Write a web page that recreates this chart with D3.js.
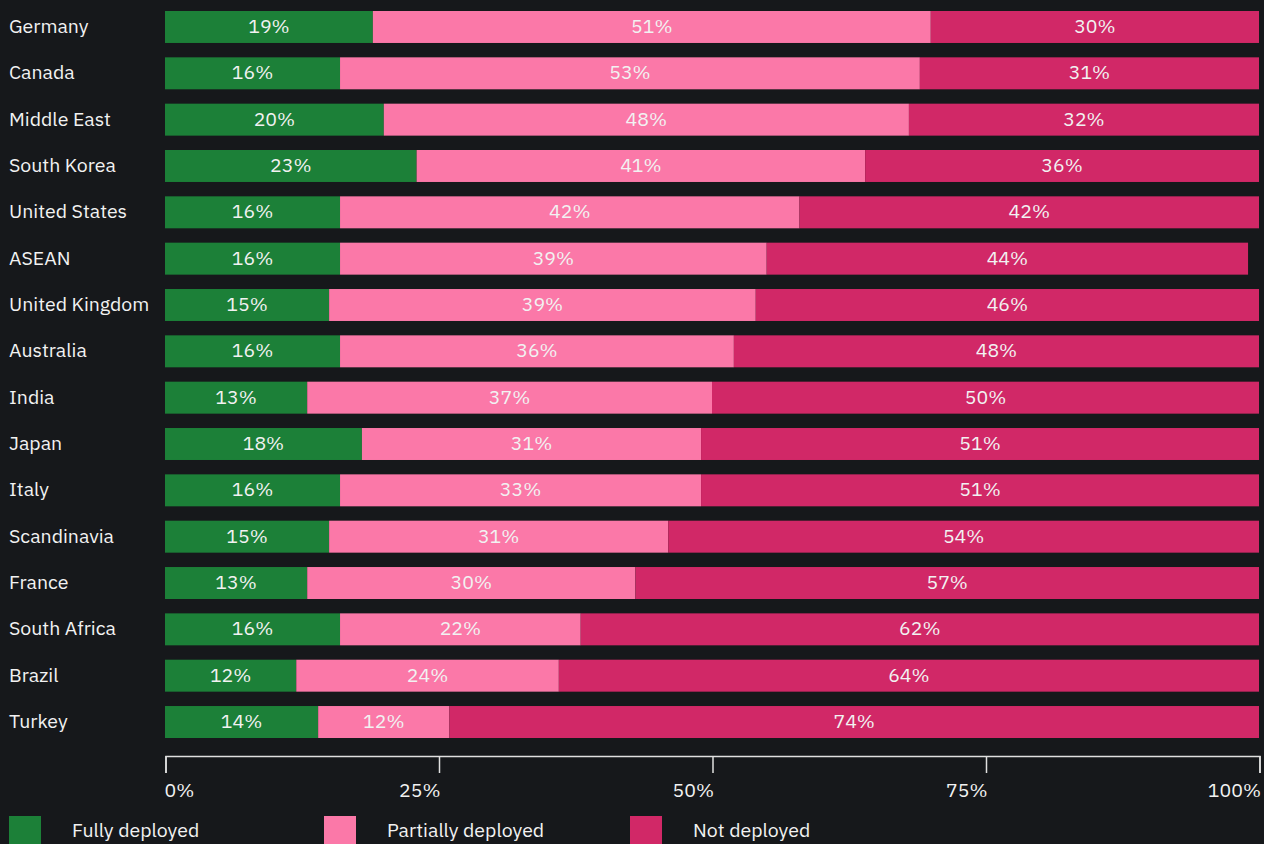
<!DOCTYPE html>
<html>
<head>
<meta charset="utf-8">
<script src="https://cdn.jsdelivr.net/npm/d3@7"></script>
<style>
  html, body { margin: 0; padding: 0; background: #16181b; }
  svg { display: block; }
  text { font-family: "IBM Plex Sans", "Noto Sans", sans-serif; fill: #f2f2f2; }
</style>
</head>
<body>
<svg id="chart" width="1264" height="844"></svg>
<script>
// Deployment status by region (percent of respondents)
const regions = ["Germany", "Canada", "Middle East", "South Korea", "United States", "ASEAN",
  "United Kingdom", "Australia", "India", "Japan", "Italy", "Scandinavia", "France",
  "South Africa", "Brazil", "Turkey"];
const fully     = [19, 16, 20, 23, 16, 16, 15, 16, 13, 18, 16, 15, 13, 16, 12, 14];
const partially = [51, 53, 48, 41, 42, 39, 39, 36, 37, 31, 33, 31, 30, 22, 24, 12];
const notDeployed = [30, 31, 32, 36, 42, 44, 46, 48, 50, 51, 51, 54, 57, 62, 64, 74];

const seriesNames = ["Fully deployed", "Partially deployed", "Not deployed"];
const seriesColors = ["#1c8038", "#fb78a8", "#d12867"];
const tickValues = [0, 25, 50, 75, 100];

const rows = regions.map((r, i) => ({
  region: r,
  "Fully deployed": fully[i],
  "Partially deployed": partially[i],
  "Not deployed": notDeployed[i]
}));

const svg = d3.select("#chart");
const fontSize = "19.5px";
const textNudge = -1.5;

const x = d3.scaleLinear().domain([0, 100]).range([165, 1259]);
const y = d3.scaleBand().domain(regions).range([11, 738]).paddingInner(0.31).paddingOuter(0);
const color = d3.scaleOrdinal().domain(seriesNames).range(seriesColors);

const stacked = d3.stack().keys(seriesNames)(rows);

const layers = svg.append("g").selectAll("g")
  .data(stacked)
  .join("g")
  .attr("fill", d => color(d.key));

layers.selectAll("rect")
  .data(d => d)
  .join("rect")
  .attr("x", d => x(d[0]))
  .attr("y", d => y(d.data.region))
  .attr("width", d => x(d[1]) - x(d[0]))
  .attr("height", y.bandwidth());

layers.selectAll("text")
  .data(d => d.map(s => ({ s, key: d.key })))
  .join("text")
  .attr("x", d => (x(d.s[0]) + x(d.s[1])) / 2)
  .attr("y", d => y(d.s.data.region) + y.bandwidth() / 2 + textNudge)
  .attr("text-anchor", "middle")
  .attr("dominant-baseline", "central")
  .style("font-size", fontSize)
  .text(d => d.s.data[d.key] + "%");

// Region labels
svg.append("g").selectAll("text")
  .data(regions)
  .join("text")
  .attr("x", 9)
  .attr("y", d => y(d) + y.bandwidth() / 2 + textNudge)
  .attr("dominant-baseline", "central")
  .style("font-size", fontSize)
  .text(d => d);

// Bottom axis
const axis = svg.append("g")
  .attr("transform", "translate(0.5,756)")
  .call(d3.axisBottom(x)
    .tickValues(tickValues)
    .tickSize(17)
    .tickSizeOuter(17)
    .tickFormat(d => d + "%"));

axis.select(".domain").attr("stroke", "#e0e0e0").attr("stroke-width", 1.5);
axis.selectAll(".tick line").attr("stroke", "#e0e0e0").attr("stroke-width", 1.5);
axis.selectAll(".tick text")
  .attr("fill", "#f2f2f2")
  .attr("y", 33)
  .attr("dy", "0")
  .attr("dominant-baseline", "central")
  .style("font-size", fontSize)
  .style("font-family", "\"IBM Plex Sans\", \"Noto Sans\", sans-serif")
  .attr("text-anchor", (d, i) => i === 0 ? "start" : "end")
  .attr("x", (d, i) => i === 0 ? -1.5 : 1);

// Legend
const legendX = [9, 324, 630];
const legend = svg.append("g").selectAll("g")
  .data(seriesNames)
  .join("g")
  .attr("transform", (d, i) => `translate(${legendX[i]},816)`);

legend.append("rect")
  .attr("width", 32)
  .attr("height", 32)
  .attr("fill", d => color(d));

legend.append("text")
  .attr("x", 63)
  .attr("y", 13)
  .attr("dominant-baseline", "central")
  .style("font-size", fontSize)
  .text(d => d);
</script>
</body>
</html>
